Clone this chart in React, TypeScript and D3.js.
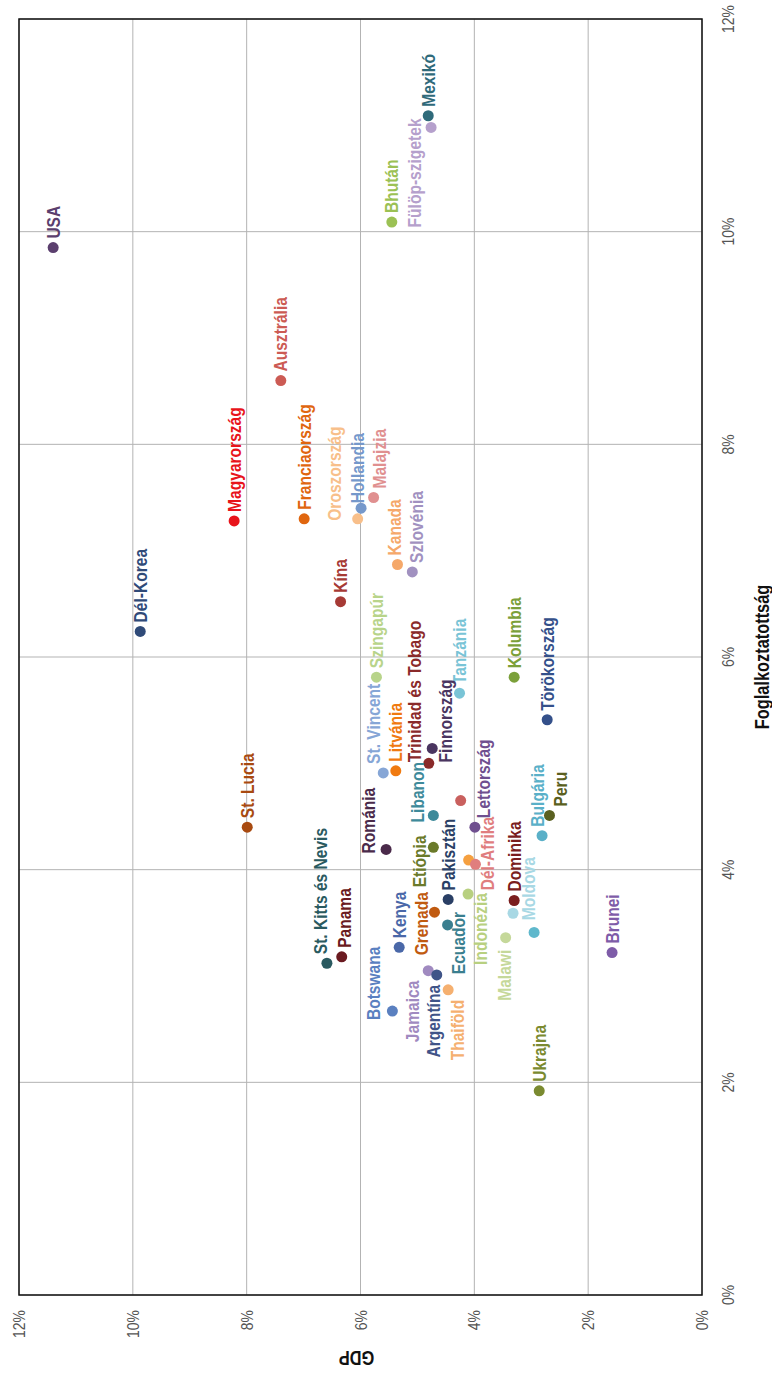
import React from 'react';
import { scaleLinear, scaleOrdinal, range } from 'd3';

// országok, GDP (%) és foglalkoztatottság (%)
const countries = [
  'USA', 'Mexikó', 'Fülöp-szigetek', 'Bhután', 'Ausztrália', 'Magyarország',
  'Franciaország', 'Oroszország', 'Hollandia', 'Malajzia', 'Kanada', 'Szlovénia',
  'Kína', 'Dél-Korea', 'Szingapúr', 'Kolumbia', 'Tanzánia', 'Törökország',
  'St. Vincent', 'Litvánia', 'Trinidad és Tobago', 'Finnország', 'St. Lucia',
  'Románia', 'Libanon', '', 'Lettország', 'Bulgária', 'Peru', 'Etiópia', '',
  'Dél-Afrika', 'Pakisztán', 'Indonézia', 'Dominika', 'Moldova', 'Grenada',
  'Ecuador', '', 'Malawi', 'Kenya', 'Brunei', 'St. Kitts és Nevis', 'Panama',
  'Jamaica', 'Argentína', 'Thaiföld', 'Botswana', 'Ukrajna',
];

const gdp = [
  11.4, 4.81, 4.76, 5.45, 7.4, 8.22,
  6.99, 6.05, 5.99, 5.77, 5.35, 5.09,
  6.35, 9.87, 5.72, 3.3, 4.26, 2.72,
  5.6, 5.38, 4.8, 4.74, 7.99,
  5.55, 4.72, 4.24, 3.99, 2.81, 2.68, 4.72, 4.1,
  3.98, 4.46, 4.11, 3.3, 3.32, 4.7,
  4.47, 2.95, 3.45, 5.32, 1.58, 6.59, 6.33,
  4.81, 4.66, 4.46, 5.44, 2.86,
];

const employment = [
  9.85, 11.09, 10.98, 10.09, 8.6, 7.28,
  7.3, 7.3, 7.4, 7.5, 6.87, 6.8,
  6.52, 6.24, 5.81, 5.81, 5.66, 5.41,
  4.91, 4.93, 5.0, 5.14, 4.4,
  4.19, 4.51, 4.65, 4.4, 4.32, 4.51, 4.21, 4.09,
  4.05, 3.72, 3.77, 3.71, 3.59, 3.6,
  3.48, 3.41, 3.36, 3.27, 3.22, 3.12, 3.18,
  3.05, 3.01, 2.87, 2.67, 1.92,
];

const palette = [
  '#5b3f6e', '#2f6a7a', '#b5a0cc', '#9bc154', '#cc5b54', '#e8141b',
  '#e0660f', '#f8bf8a', '#7598cb', '#e09090', '#f5a86a', '#a191c0',
  '#a63a35', '#2f4a78', '#b8d48a', '#7ba03a', '#79c4d6', '#34508a',
  '#86a6d6', '#f07a10', '#8a2a2a', '#4a3560', '#a84a10',
  '#4a2a4a', '#3e8a9a', '#c9605e', '#6f4f8f', '#5ab0c8', '#5a6020', '#6a7a2a', '#f5a040',
  '#e07e7e', '#2a3f65', '#b8d080', '#7a1e1e', '#a8d8e4', '#c05a10',
  '#3a7f8f', '#5fb8cc', '#c5d89a', '#4a68a8', '#7e5ca8', '#2a5a60', '#6a1a20',
  '#a08ac0', '#3f5488', '#f5b070', '#5a80c0', '#7a8a30',
];

const xTicks = [0, 2, 4, 6, 8, 10, 12];

// kézi címke-eltolások (a diagram saját, elforgatás előtti koordinátáiban)
const nudge: Record<string, { dx?: number; dy?: number; anchor?: string }> = {
  'Fülöp-szigetek': { dy: -17, anchor: 'end' },
  Oroszország: { dx: -11, dy: -23 },
  Hollandia: { dx: -4, dy: -4 },
  Malajzia: { dy: 6 },
  Kanada: { dy: -3 },
  Szlovénia: { dy: 4 },
  'St. Vincent': { dy: -10 },
  'Trinidad és Tobago': { dx: -8, dy: -14 },
  Finnország: { dx: -23, dy: 13 },
  Románia: { dx: -13, dy: -18 },
  Libanon: { dx: -16, dy: -16 },
  Lettország: { dy: 9 },
  'Dél-Afrika': { dx: -35, dy: 12 },
  Bulgária: { dy: -5 },
  Peru: { dy: 11 },
  Etiópia: { dx: -49, dy: -14 },
  Moldova: { dx: -16, dy: 15 },
  Indonézia: { dx: -8, dy: 12, anchor: 'end' },
  Grenada: { dx: 11, dy: -13, anchor: 'end' },
  Ecuador: { dx: 4, dy: 11, anchor: 'end' },
  'St. Kitts és Nevis': { dy: -6 },
  Panama: { dy: 3 },
  Malawi: { dx: -21, dy: -1, anchor: 'end' },
  Botswana: { dx: -18, dy: -19 },
  Jamaica: { dx: -19, dy: -16, anchor: 'end' },
  Argentína: { dx: -19, dy: -3, anchor: 'end' },
  Thaiföld: { dx: -19, dy: 9, anchor: 'end' },
};

const W = 1375;
const H = 772;
const FONT = "'Liberation Sans', Arial, sans-serif";
// keskeny betű utánzása vízszintes összenyomással
const NARROW = 0.82;

const App = () => {
  // a diagram fekvő helyzetben készül, majd -90 fokkal elforgatva jelenik meg
  const xScale = scaleLinear().domain([0, 12]).range([80, 1356]);
  const yScale = scaleLinear().domain([0, 12]).range([702, 19]);
  const color = scaleOrdinal<number, string>().domain(range(countries.length)).range(palette);

  const [x0, x1] = xScale.range();
  const [y0, y1] = yScale.range();

  return (
    <svg
      width={H}
      height={W}
      style={{ position: 'absolute', left: 0, top: 0, background: '#fff' }}
      fontFamily={FONT}
    >
      <g transform={`translate(0,${W}) rotate(-90)`}>
        {/* rács */}
        {xTicks.map((t) => (
          <line key={'gx' + t} x1={xScale(t)} x2={xScale(t)} y1={y1} y2={y0} stroke="#b3b3b3" strokeWidth={1} />
        ))}
        {xTicks.map((t) => (
          <line key={'gy' + t} x1={x0} x2={x1} y1={yScale(t)} y2={yScale(t)} stroke="#b3b3b3" strokeWidth={1} />
        ))}
        <rect x={x0} y={y1} width={x1 - x0} height={y0 - y1} fill="none" stroke="#111" strokeWidth={1.5} />

        {/* tengelyfeliratok */}
        {xTicks.map((t) => (
          <text
            key={'tx' + t}
            transform={`translate(${xScale(t)},${y0 + 26}) scale(${NARROW},1)`}
            textAnchor="middle"
            dominantBaseline="central"
            fontSize={17}
            fill="#555"
          >
            {t}%
          </text>
        ))}
        {xTicks.map((t) => (
          <text
            key={'ty' + t}
            transform={`translate(${x0 - 15},${yScale(t)}) scale(${NARROW},1)`}
            textAnchor="end"
            dominantBaseline="central"
            fontSize={17}
            fill="#555"
          >
            {t}%
          </text>
        ))}
        <text
          transform={`translate(${(x0 + x1) / 2},762) scale(${NARROW},1)`}
          textAnchor="middle"
          dominantBaseline="central"
          fontSize={20}
          fontWeight="bold"
          fill="#111"
        >
          Foglalkoztatottság
        </text>
        <text
          transform={`translate(17,${(y0 + y1) / 2 - 4}) rotate(-90) scale(${NARROW},1)`}
          textAnchor="middle"
          dominantBaseline="central"
          fontSize={20}
          fontWeight="bold"
          fill="#111"
        >
          GDP
        </text>

        {/* pontok */}
        {countries.map((c, i) => (
          <circle key={'p' + i} cx={xScale(employment[i])} cy={yScale(gdp[i])} r={5.5} fill={color(i)} />
        ))}

        {/* országnevek */}
        {countries.map((c, i) => {
          if (!c) return null;
          const n = nudge[c] || {};
          const lx = xScale(employment[i]) + 9 + (n.dx || 0);
          const ly = yScale(gdp[i]) + (n.dy || 0);
          return (
            <text
              key={'l' + i}
              transform={`translate(${lx},${ly}) scale(${NARROW},1)`}
              textAnchor={n.anchor || 'start'}
              dominantBaseline="central"
              fontSize={19}
              fontWeight="bold"
              fill={color(i)}
            >
              {c}
            </text>
          );
        })}
      </g>
    </svg>
  );
};

export default App;
